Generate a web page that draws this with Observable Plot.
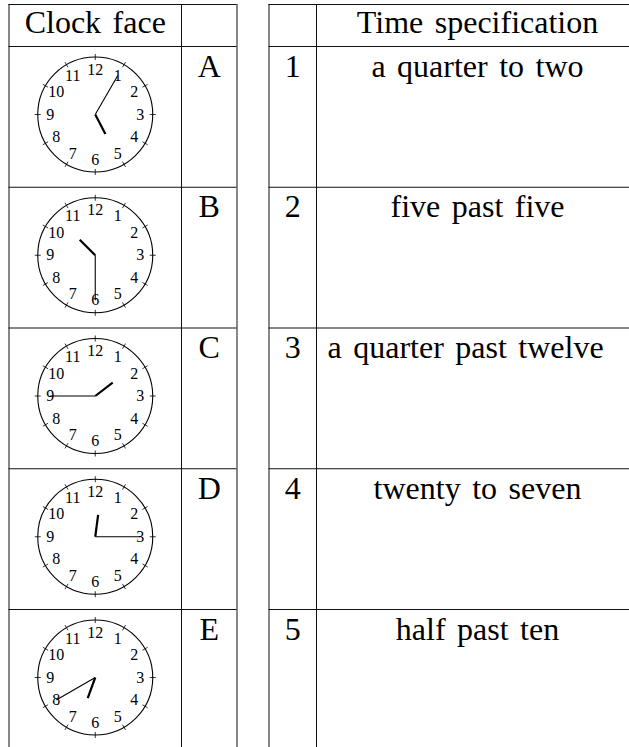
<!DOCTYPE html>
<html><head><meta charset="utf-8">
<script src="https://cdn.jsdelivr.net/npm/d3@7"></script>
<script src="https://cdn.jsdelivr.net/npm/@observablehq/plot@0.6"></script>
<style>body{margin:0;background:#fff}</style>
</head><body><div id="chart"></div>
<script>
// ---- data ----
const headerLabels = ["Clock face", "Time specification"];
const clockLetters = ["A", "B", "C", "D", "E"];
const clockHours = [5, 10, 1, 12, 6];
const clockMinutes = [5, 30, 45, 15, 40];
const specNumbers = ["1", "2", "3", "4", "5"];
const specTexts = ["a quarter to two", "five past five", "a quarter past twelve", "twenty to seven", "half past ten"];
const dialNumbers = [1, 2, 3, 4, 5, 6, 7, 8, 9, 10, 11, 12];

// ---- layout ----
const W = 629, H = 747;
const tableTop = 4, headerBottom = 46, rowH = 140.75;
const leftCols = [8.5, 181, 236.5];
const rightCols = [268.5, 316, 645];
const rowTop = i => headerBottom + rowH * i;
const R = 57.5, labelR = 45, hourLen = 22, minLen = 45;
const clockX = (leftCols[0] + leftCols[1]) / 2;
const letterX = (leftCols[1] + leftCols[2]) / 2;
const numX = (rightCols[0] + rightCols[1]) / 2;
const specX = 477, specLeft = rightCols[1] + 11, specMaxChars = 20;
const rad = d => d * Math.PI / 180;

const clocks = clockLetters.map((letter, i) => ({
  letter, h: clockHours[i], m: clockMinutes[i], cx: clockX, cy: rowTop(i) + 68, i
}));
const polar = (c, a, r) => [c.cx + r * Math.sin(rad(a)), c.cy - r * Math.cos(rad(a))];

const ticks = clocks.flatMap(c => dialNumbers.map(k => {
  const [x1, y1] = polar(c, k * 30, R - 3);
  const [x2, y2] = polar(c, k * 30, R + 3);
  return {x1, y1, x2, y2};
}));
const labels = clocks.flatMap(c => dialNumbers.map(k => {
  const [x, y] = polar(c, k * 30, labelR);
  return {x, y, t: String(k)};
}));
const hourHands = clocks.map(c => {
  const [x2, y2] = polar(c, ((c.h % 12) + c.m / 60) * 30, hourLen);
  return {x1: c.cx, y1: c.cy, x2, y2};
});
const minuteHands = clocks.map(c => {
  const [x2, y2] = polar(c, c.m * 6, minLen);
  return {x1: c.cx, y1: c.cy, x2, y2};
});

const rows = clockLetters.map((l, i) => ({
  y: rowTop(i) + 30, letter: l, num: specNumbers[i], spec: specTexts[i]
}));
// overfull entries (too long for the centred column) start at the column's left edge
const centred = rows.filter(r => r.spec.length <= specMaxChars);
const overfull = rows.filter(r => r.spec.length > specMaxChars);
const hLines = [tableTop, headerBottom, ...d3.range(1, 5).map(rowTop)];

const font = "Liberation Serif";
const fs = 32;
const chart = Plot.plot({
  width: W, height: H, margin: 0,
  x: {domain: [0, W], range: [0, W], axis: null},
  y: {domain: [0, H], range: [0, H], axis: null},
  style: "background: white; word-spacing: 3.5px;",
  marks: [
    Plot.ruleY(hLines, {y: d => d, x1: leftCols[0], x2: leftCols[2], stroke: "#111", strokeWidth: 1}),
    Plot.ruleY(hLines, {y: d => d, x1: rightCols[0], x2: rightCols[2], stroke: "#111", strokeWidth: 1}),
    Plot.ruleX([...leftCols, ...rightCols], {x: d => d, y1: tableTop, y2: H, stroke: "#111", strokeWidth: 1}),
    Plot.text(headerLabels, {x: (d, i) => i === 0 ? clockX : specX, y: tableTop + 28, text: d => d,
      fontSize: fs, fontFamily: font, lineAnchor: "bottom", textAnchor: "middle", fill: "black"}),
    Plot.text(rows, {x: letterX, y: "y", text: "letter", fontSize: fs, fontFamily: font, lineAnchor: "bottom", textAnchor: "middle", fill: "black"}),
    Plot.text(rows, {x: numX, y: "y", text: "num", fontSize: fs, fontFamily: font, lineAnchor: "bottom", textAnchor: "middle", fill: "black"}),
    Plot.text(centred, {x: specX, y: "y", text: "spec", fontSize: fs, fontFamily: font, lineAnchor: "bottom", textAnchor: "middle", fill: "black"}),
    Plot.text(overfull, {x: specLeft, y: "y", text: "spec", fontSize: fs, fontFamily: font, lineAnchor: "bottom", textAnchor: "start", fill: "black"}),
    Plot.dot(clocks, {x: "cx", y: "cy", r: R, stroke: "black", fill: "none", strokeWidth: 1.1}),
    Plot.link(ticks, {x1: "x1", y1: "y1", x2: "x2", y2: "y2", stroke: "black", strokeWidth: 0.8}),
    Plot.text(labels, {x: "x", y: "y", text: "t", fontSize: 16, fontFamily: font, textAnchor: "middle", lineAnchor: "middle", fill: "black"}),
    Plot.link(minuteHands, {x1: "x1", y1: "y1", x2: "x2", y2: "y2", stroke: "black", strokeWidth: 1.1}),
    Plot.link(hourHands, {x1: "x1", y1: "y1", x2: "x2", y2: "y2", stroke: "black", strokeWidth: 2.2})
  ]
});
document.getElementById("chart").appendChild(chart);
</script>
</body></html>
